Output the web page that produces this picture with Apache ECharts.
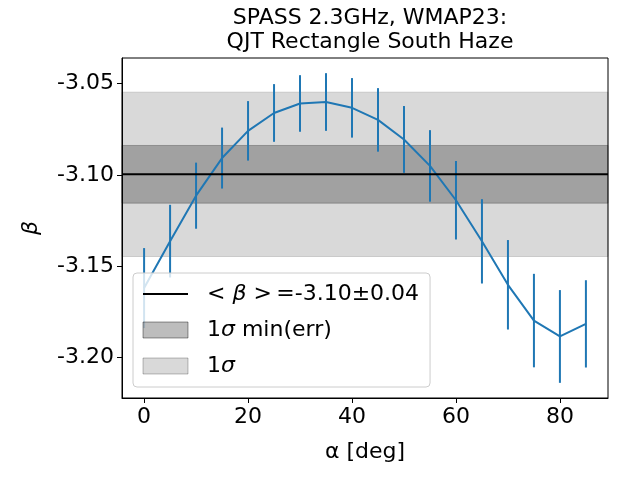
<!DOCTYPE html>
<html>
<head>
<meta charset="utf-8">
<script src="https://cdn.jsdelivr.net/npm/echarts@6/dist/echarts.min.js"></script>
<style>
  html, body { margin: 0; padding: 0; background: #fff; }
  #chart { width: 640px; height: 480px; }
</style>
</head>
<body>
<div id="chart"></div>
<script>
// 数据
var alpha = [0, 5, 10, 15, 20, 25, 30, 35, 40, 45, 50, 55, 60, 65, 70, 75, 80, 85];
var beta = [-3.1619, -3.1362, -3.1113, -3.0907, -3.0758, -3.0660, -3.0608, -3.0600, -3.0632,
  -3.0698, -3.0805, -3.0950, -3.1138, -3.1363, -3.1601, -3.1797, -3.1884, -3.1815];
var betaErr = [0.0219, 0.0199, 0.0181, 0.0167, 0.0163, 0.0158, 0.0155, 0.0158, 0.0163,
  0.0174, 0.0183, 0.0196, 0.0215, 0.0231, 0.0245, 0.0256, 0.0254, 0.0239];
var betaMean = -3.0996;
var sigmaAll = 0.045;
var sigmaMinErr = 0.0158;
var xTicks = [0, 20, 40, 60, 80];
var yTicks = [-3.20, -3.15, -3.10, -3.05];

var X_MIN = -4.25, X_MAX = 89.25;
var Y_MIN = -3.2221, Y_MAX = -3.0359;
var FONT = "DejaVu Sans";
var blue = "#1f77b4";

var errData = alpha.map(function (a, i) { return [a, beta[i] - betaErr[i], beta[i] + betaErr[i]]; });
var lineData = alpha.map(function (a, i) { return [a, beta[i]]; });

// 横带 (axhspan)
function bandItem(params, api) {
  var p1 = api.coord([X_MIN, api.value(1)]);
  var p2 = api.coord([X_MAX, api.value(0)]);
  return {
    type: "rect",
    shape: { x: p1[0], y: p1[1], width: p2[0] - p1[0], height: p2[1] - p1[1] },
    style: { fill: api.visual("color"), stroke: api.visual("color"), lineWidth: 1 }
  };
}

var myChart = echarts.init(document.getElementById("chart"));
var option = {
  animation: false,
  textStyle: { fontFamily: FONT },
  title: {
    text: "SPASS 2.3GHz, WMAP23:\nQJT Rectangle South Haze",
    left: 365,
    top: 1,
    textAlign: "center",
    textStyle: { fontFamily: FONT, fontSize: 22, fontWeight: "normal", color: "#000", lineHeight: 24 }
  },
  grid: {
    left: 122, right: 32, top: 58, bottom: 82,
    show: true, borderColor: "#000", borderWidth: 1
  },
  legend: {
    orient: "vertical",
    left: 133,
    top: 273,
    padding: [10, 11, 10, 9],
    itemGap: 14,
    itemWidth: 45,
    itemHeight: 16,
    backgroundColor: "rgba(255,255,255,0.8)",
    borderColor: "#cccccc",
    borderWidth: 1,
    borderRadius: 4,
    textStyle: {
      fontFamily: FONT, fontSize: 22, color: "#000", padding: [0, 0, 0, 14],
      rich: {
        i: { fontFamily: FONT, fontSize: 22, fontStyle: "italic", color: "#000" }
      }
    },
    formatter: function (name) {
      if (name === "mean") return "< {i|β} >\u2009=-3.10±0.04";
      if (name === "minerr") return "1{i|σ} min(err)";
      return "1{i|σ}";
    },
    data: [
      { name: "mean", itemStyle: { opacity: 0 } },
      { name: "minerr", icon: "rect", itemStyle: { color: "rgba(0,0,0,0.26)", borderColor: "rgba(0,0,0,0.4)", borderWidth: 1 } },
      { name: "all", icon: "rect", itemStyle: { color: "rgba(0,0,0,0.15)", borderColor: "rgba(0,0,0,0.25)", borderWidth: 1 } }
    ]
  },
  xAxis: {
    type: "value",
    min: X_MIN,
    max: X_MAX,
    name: "α [deg]",
    nameLocation: "middle",
    nameGap: 43,
    nameTextStyle: { fontFamily: FONT, fontSize: 22, color: "#000" },
    axisLine: { show: true, onZero: false, lineStyle: { color: "#000", width: 1 } },
    axisTick: { show: true, inside: false, length: 5, customValues: xTicks, lineStyle: { color: "#000" } },
    axisLabel: { customValues: xTicks, fontFamily: FONT, fontSize: 22, color: "#000", margin: 8 },
    splitLine: { show: false }
  },
  yAxis: {
    type: "value",
    min: Y_MIN,
    max: Y_MAX,
    name: "β",
    nameLocation: "middle",
    nameGap: 80,
    nameRotate: 90,
    nameTextStyle: { fontFamily: FONT, fontSize: 22, fontStyle: "italic", color: "#000" },
    axisLine: { show: true, onZero: false, lineStyle: { color: "#000", width: 1 } },
    axisTick: { show: true, inside: false, length: 5, customValues: yTicks, lineStyle: { color: "#000" } },
    axisLabel: {
      customValues: yTicks, fontFamily: FONT, fontSize: 22, color: "#000", margin: 8,
      formatter: function (v) { return v.toFixed(2); }
    },
    splitLine: { show: false }
  },
  series: [
    {
      name: "all",
      type: "custom",
      z: 1,
      itemStyle: { color: "rgba(0,0,0,0.15)" },
      renderItem: bandItem,
      data: [[betaMean - sigmaAll, betaMean + sigmaAll]],
      silent: true
    },
    {
      name: "minerr",
      type: "custom",
      z: 1,
      itemStyle: { color: "rgba(0,0,0,0.26)" },
      renderItem: bandItem,
      data: [[betaMean - sigmaMinErr, betaMean + sigmaMinErr]],
      silent: true
    },
    {
      name: "errbar",
      type: "custom",
      z: 3,
      renderItem: function (params, api) {
        var lo = api.coord([api.value(0), api.value(1)]);
        var hi = api.coord([api.value(0), api.value(2)]);
        return {
          type: "line",
          shape: { x1: lo[0], y1: lo[1], x2: hi[0], y2: hi[1] },
          style: { stroke: blue, lineWidth: 2 }
        };
      },
      encode: { x: 0, y: [1, 2] },
      data: errData,
      silent: true
    },
    {
      name: "beta",
      type: "line",
      z: 3,
      showSymbol: false,
      symbol: "none",
      lineStyle: { color: blue, width: 2 },
      data: lineData,
      silent: true
    },
    {
      name: "mean",
      type: "line",
      z: 4,
      symbol: "none",
      itemStyle: { color: "#000" },
      lineStyle: { color: "#000", width: 2 },
      data: [[X_MIN, betaMean], [X_MAX, betaMean]],
      silent: true
    }
  ]
};
myChart.setOption(option);
window.addEventListener("resize", function () {
  myChart.resize();
});
</script>
</body>
</html>
